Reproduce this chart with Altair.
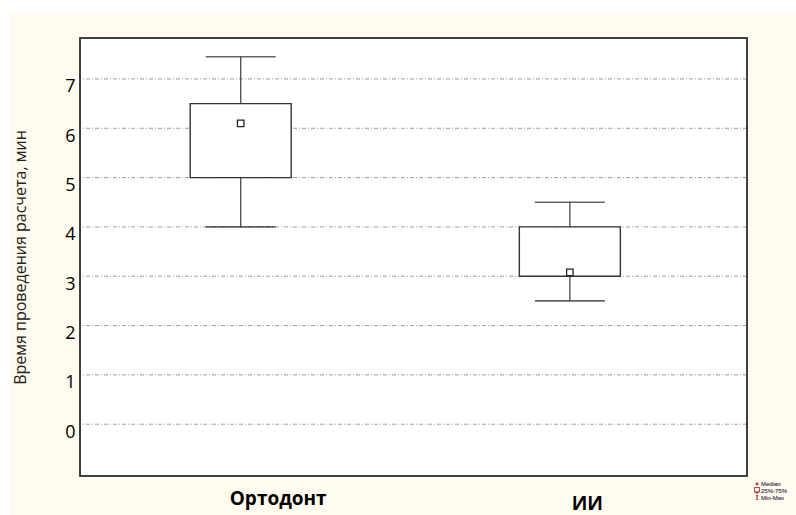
import altair as alt
import pandas as pd

# ---- data ----
groups = ["Ортодонт", "ИИ"]
positions = [1, 2]
mins = [4.0, 2.5]
q1s = [5.0, 3.0]
medians = [6.1, 3.08]
q3s = [6.5, 4.0]
maxs = [7.45, 4.5]
y_ticks = [0, 1, 2, 3, 4, 5, 6, 7]
y_title = "Время проведения расчета, мин"
legend_labels = ["Median", "25%-75%", "Min-Max"]

df = pd.DataFrame(dict(group=groups, pos=positions, lo=mins, q1=q1s,
                       med=medians, q3=q3s, hi=maxs))
grid_df = pd.DataFrame({"v": y_ticks})

W, H = 667, 438
CREAM = "#fffbee"
INK = "#333333"

xscale = alt.Scale(domain=[0.527, 2.523], nice=False, zero=False)
yscale = alt.Scale(domain=[-1.05, 7.83], nice=False, zero=False)

label_expr = f"datum.value == 1 ? '{groups[0]}' : '{groups[1]}'"
xaxis = alt.Axis(values=positions, labelExpr=label_expr, title=None, grid=False,
                 ticks=False, domain=False, labelFontSize=19, labelFontWeight="bold",
                 labelFont="Open Sans", labelColor="black", zindex=1,
                 labelOffset={"condition": {"test": "datum.value == 1", "value": 37}, "value": 17},
                 labelPadding={"condition": {"test": "datum.value == 1", "value": 13}, "value": 18})
yaxis = alt.Axis(values=y_ticks, title=y_title, grid=False, ticks=False, domain=False,
                 labelFontSize=18, labelFont="Open Sans", labelFontWeight="normal",
                 labelColor="black", labelPadding=5, labelOffset=8, zindex=1,
                 titleFontSize=16, titleFont="Open Sans", titleFontWeight="normal",
                 titleColor="#222", titlePadding=36)

X = lambda f: alt.X(f, type="quantitative", scale=xscale, axis=xaxis)
Y = lambda f: alt.Y(f, type="quantitative", scale=yscale, axis=yaxis)

base = alt.Chart(df)

cream = alt.Chart(df).mark_rect(color=CREAM).encode(
    x=alt.value(-70), x2=alt.value(716), y=alt.value(-26), y2=alt.value(477))
plotbg = alt.Chart(df).mark_rect(color="white").encode(
    x=alt.value(0), x2=alt.value(W), y=alt.value(0), y2=alt.value(H))

grid = alt.Chart(grid_df).mark_rule(color="#9c9c9c", strokeWidth=1,
                                    strokeDash=[4, 2, 1, 2]).encode(y=Y("v"))

whisk = base.mark_rule(color="#555555", strokeWidth=1.4).encode(
    x=X("pos"), y=Y("lo"), y2="hi")
box = base.mark_bar(size=101, fill="white", stroke=INK, strokeWidth=1.4).encode(
    x=X("pos"), y=Y("q1"), y2="q3")
cap_lo = base.mark_tick(orient="horizontal", size=70, thickness=1.6, color="#222").encode(
    x=X("pos"), y=Y("lo"))
cap_hi = base.mark_tick(orient="horizontal", size=70, thickness=1.6, color="#222").encode(
    x=X("pos"), y=Y("hi"))
med = base.mark_point(shape="square", size=42, filled=True, color="white",
                      stroke="#222", strokeWidth=1.3, opacity=1).encode(
    x=X("pos"), y=Y("med"))

border = alt.Chart(df).mark_rect(fillOpacity=0, stroke=INK, strokeWidth=1.5).encode(
    x=alt.value(0), x2=alt.value(W), y=alt.value(0), y2=alt.value(H))

# small legend in the bottom-right corner
RED = "#b04848"
leg_layers = []
leg_layers.append(alt.Chart(df).mark_point(shape="square", size=6, filled=True, color=RED,
                                           opacity=1).encode(x=alt.value(677), y=alt.value(446)))
leg_layers.append(alt.Chart(df).mark_rect(fillOpacity=0, stroke=RED, strokeWidth=1).encode(
    x=alt.value(674.5), x2=alt.value(679.5), y=alt.value(449.5), y2=alt.value(454)))
leg_layers.append(alt.Chart(df).mark_rule(color=RED, strokeWidth=1).encode(
    x=alt.value(677), y=alt.value(454), y2=alt.value(456)))
leg_layers.append(alt.Chart(df).mark_text(text="I", font="DejaVu Serif", fontSize=8,
                                          color=RED, baseline="middle").encode(
    x=alt.value(677), y=alt.value(459.5)))
for i, lab in enumerate(legend_labels):
    leg_layers.append(alt.Chart(df).mark_text(text=lab, font="Liberation Sans", fontSize=6,
                                              color="#5a5a6a", align="left",
                                              baseline="middle").encode(
        x=alt.value(681), y=alt.value(446 + 6.8 * i)))

chart = alt.layer(cream, plotbg, grid, whisk, box, cap_lo, cap_hi, med, border,
                  *leg_layers).properties(
    width=W, height=H,
    padding={"left": 80, "top": 38, "right": 49, "bottom": 39},
    autosize=alt.AutoSizeParams(type="none"),
    background="white",
).configure_view(strokeWidth=0)

chart.save("out.html", embed_options={"renderer": "svg", "actions": False})
